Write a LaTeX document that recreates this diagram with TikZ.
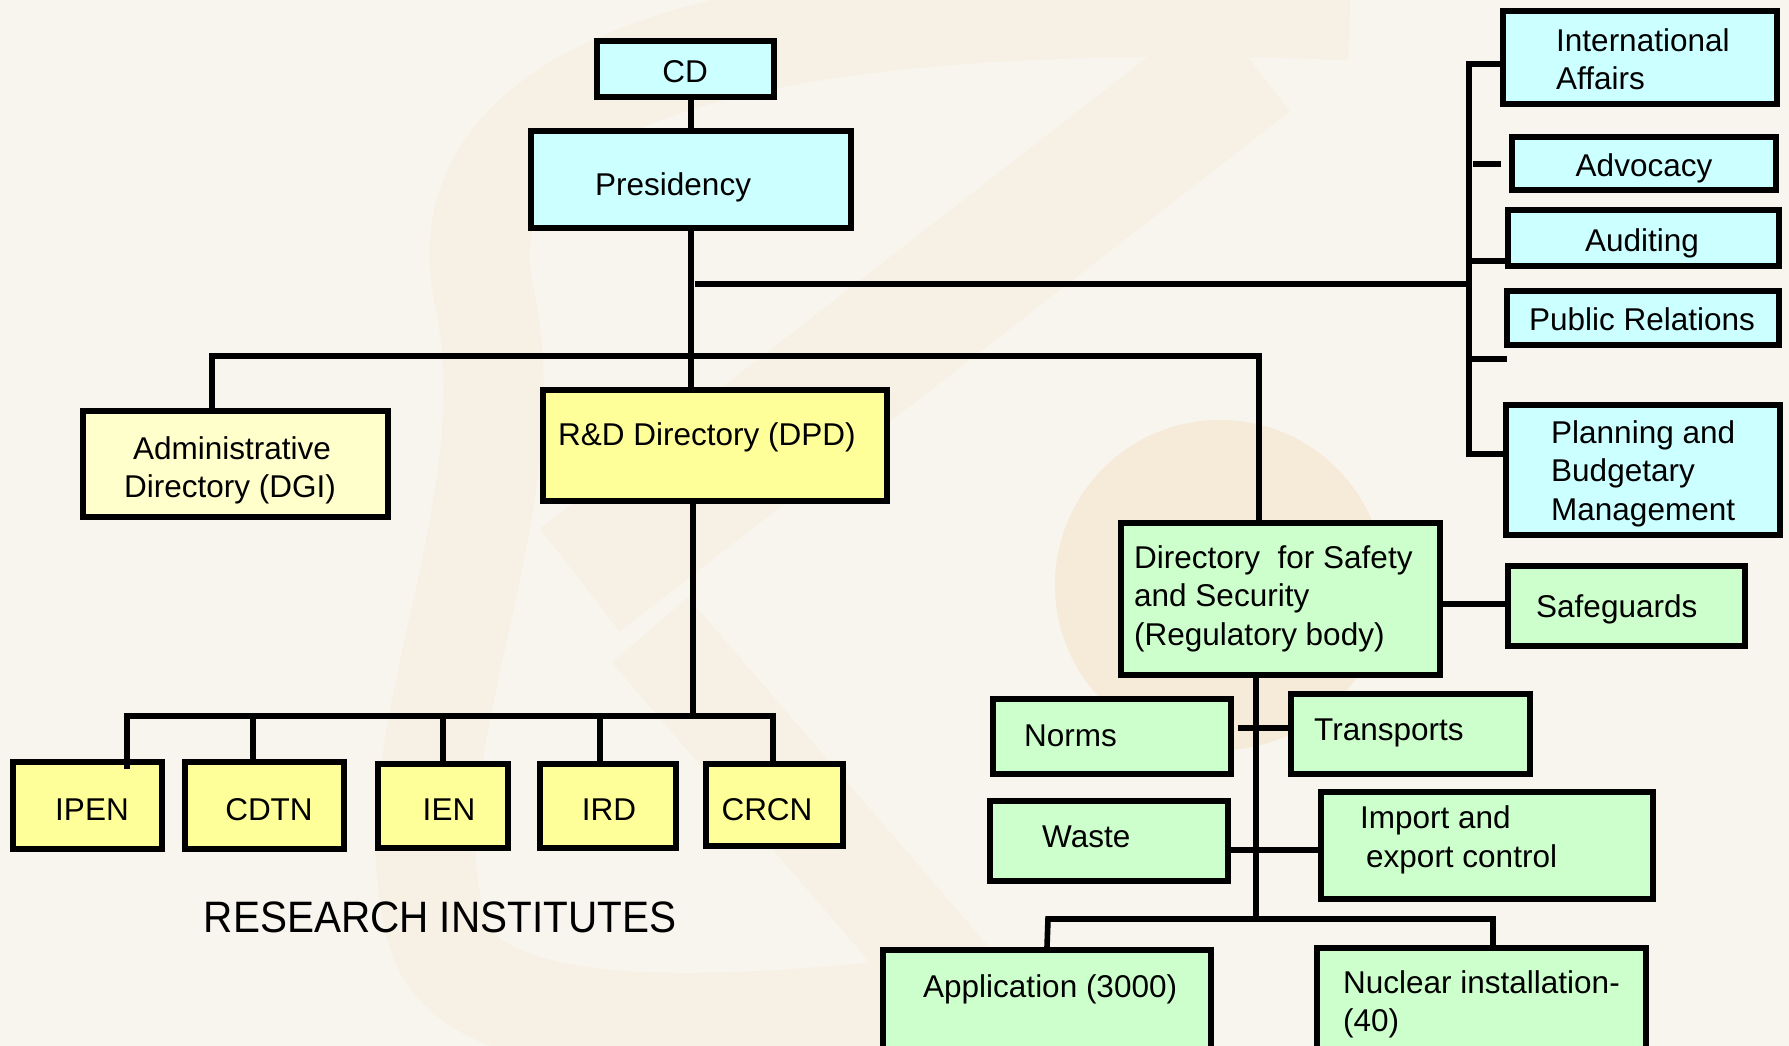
\documentclass[tikz,border=0pt]{standalone}
\usepackage{fontspec}
\setmainfont{Liberation Sans}
\usetikzlibrary{calc}
\definecolor{bg}{HTML}{F8F4EE}
\definecolor{wm}{HTML}{F7F0E4}
\definecolor{wmc}{HTML}{F6EAD8}
\definecolor{boxcyan}{HTML}{CCFFFF}
\definecolor{boxyellow}{HTML}{FFFF99}
\definecolor{boxpale}{HTML}{FFFFCC}
\definecolor{boxgreen}{HTML}{CCFFCC}
\begin{document}
\begin{tikzpicture}[x=1pt,y=-1pt,
  box/.style={draw=black, line width=5.6pt, inner sep=0pt, anchor=center},
  cbox/.style={box, fill=boxcyan},
  ybox/.style={box, fill=boxyellow},
  pbox/.style={box, fill=boxpale},
  gbox/.style={box, fill=boxgreen},
  txt/.style={inner sep=0pt, anchor=base west, font=\fontsize{31.5}{39}\selectfont},
  ctxt/.style={txt, anchor=base},
  conn/.style={draw=black, line width=5.6pt, line join=miter}]
\useasboundingbox (0,0) rectangle (1789,1046);
\fill[bg] (0,0) rectangle (1789,1046);
% watermark
\begin{scope}
\clip (0,0) rectangle (1789,1046);
\fill[wmc] (1220,585) circle (165);
\draw[wm, line width=130pt] (1250,60) -- (580,580);
\draw[wm, line width=100pt] (1350,10) .. controls (800,-10) and (430,60) .. (485,300) .. controls (530,520) and (380,760) .. (440,940) .. controls (480,1040) and (700,1030) .. (900,1010);
\draw[wm, line width=100pt] (650,630) -- (1020,1060);
\end{scope}
% boxes
\node[cbox, minimum width=177pt, minimum height=56pt] (CD) at (685.5,69) {};
\node[ctxt] (CDt) at (685,83) {CD};
\node[cbox, minimum width=320pt, minimum height=97pt] (Pres) at (691,179.5) {};
\node[txt] (Prest) at (595,195) {Presidency};
\node[cbox, minimum width=274pt, minimum height=93pt] (IA) at (1640,57.5) {};
\node[txt] (IAt1) at (1556,52) {International};
\node[txt] (IAt2) at (1556,90) {Affairs};
\node[cbox, minimum width=264pt, minimum height=53pt] (Adv) at (1644,163.5) {};
\node[ctxt] (Advt) at (1644,177) {Advocacy};
\node[cbox, minimum width=271pt, minimum height=56pt] (Aud) at (1643.5,238) {};
\node[ctxt] (Audt) at (1642,251) {Auditing};
\node[cbox, minimum width=272pt, minimum height=54pt] (PR) at (1643,318) {};
\node[ctxt] (PRt) at (1642,330) {Public Relations};
\node[cbox, minimum width=274pt, minimum height=130pt] (PB) at (1643,470) {};
\node[txt] (PBt1) at (1551,443) {Planning and};
\node[txt] (PBt2) at (1551,481) {Budgetary};
\node[txt] (PBt3) at (1551,520) {Management};
\node[pbox, minimum width=305pt, minimum height=106pt] (Adm) at (235.5,464) {};
\node[ctxt] (Admt1) at (232,459) {Administrative};
\node[ctxt] (Admt2) at (230,497) {Directory (DGI)};
\node[ybox, minimum width=344pt, minimum height=111pt] (RD) at (715,445.5) {};
\node[txt] (RDt) at (558,445) {R\&D Directory (DPD)};
\node[ybox, minimum width=149pt, minimum height=87pt] (IPEN) at (87.5,805.5) {};
\node[ctxt] (IPENt) at (92,820) {IPEN};
\node[ybox, minimum width=159pt, minimum height=87pt] (CDTN) at (264.5,805.5) {};
\node[ctxt] (CDTNt) at (269,820) {CDTN};
\node[ybox, minimum width=130pt, minimum height=84pt] (IEN) at (443,806) {};
\node[ctxt] (IENt) at (449,820) {IEN};
\node[ybox, minimum width=136pt, minimum height=84pt] (IRD) at (608,806) {};
\node[ctxt] (IRDt) at (609,820) {IRD};
\node[ybox, minimum width=137pt, minimum height=82pt] (CRCN) at (774.5,805) {};
\node[ctxt] (CRCNt) at (767,820) {CRCN};
\node[inner sep=0pt, anchor=base, font=\fontsize{44}{50}\selectfont] (RI) at (440,932) {\scalebox{0.92}[1]{RESEARCH INSTITUTES}};
\node[gbox, minimum width=319pt, minimum height=152pt] (DSS) at (1280.5,599) {};
\node[txt] (DSSt1) at (1134,568) {Directory\ \ for Safety};
\node[txt] (DSSt2) at (1134,606) {and Security};
\node[txt] (DSSt3) at (1134,645) {(Regulatory body)};
\node[gbox, minimum width=237pt, minimum height=80pt] (Saf) at (1626.5,606) {};
\node[txt] (Saft) at (1536,617) {Safeguards};
\node[gbox, minimum width=238pt, minimum height=75pt] (Norms) at (1112,736.5) {};
\node[txt] (Normst) at (1024,746) {Norms};
\node[gbox, minimum width=239pt, minimum height=80pt] (Tr) at (1410.5,734) {};
\node[txt] (Trt) at (1314,740) {Transports};
\node[gbox, minimum width=238pt, minimum height=80pt] (Waste) at (1109,841) {};
\node[txt] (Wastet) at (1042,847) {Waste};
\node[gbox, minimum width=332pt, minimum height=107pt] (Imp) at (1487,845.5) {};
\node[txt] (Impt1) at (1360,828) {Import and};
\node[txt] (Impt2) at (1366,867) {export control};
\node[gbox, minimum width=328pt, minimum height=107pt] (App) at (1047,1003.5) {};
\node[txt] (Appt) at (923,997) {Application (3000)};
\node[gbox, minimum width=329pt, minimum height=109pt] (Nuc) at (1481.5,1002.5) {};
\node[txt] (Nuct1) at (1343,993) {Nuclear installation-};
\node[txt] (Nuct2) at (1343,1031) {(40)};
% connectors
\draw[conn] (CD.south -| Pres.north) -- ($(Pres.north)+(0,3)$);
\coordinate (hb) at (695,284);
\coordinate (barT) at (1469,64);
\coordinate (barB) at (1469,454);
\draw[conn] (hb) -- (hb -| barT);
\draw[conn] (IA.west |- barT) -- (barT) -- (barB) -- (PB.west |- barB);
\coordinate (advS) at (1473,164);
\draw[conn] (advS) -- ($(advS -| Adv.west)+(-8,0)$);
\coordinate (audS) at (1469,261);
\draw[conn] (audS) -- ($(audS -| Aud.west)+(5,0)$);
\coordinate (prS) at (1469,359);
\draw[conn] (prS) -- ($(prS -| PR.west)+(3,0)$);
\draw[conn] (Pres.south) -- (Pres.south |- RD.north);
\coordinate (b2L) at (212,356);
\coordinate (b2R) at (1259,356);
\draw[conn] (b2L |- Adm.north) -- (b2L) -- (b2R) -- (b2R |- DSS.north);
\coordinate (ib) at (693,716);
\coordinate (ibL) at (127,716);
\coordinate (ibR) at (773,716);
\draw[conn] (ib |- RD.south) -- (ib);
\draw[conn] ($(ibL |- IPEN.north)+(0,10)$) -- (ibL) -- (ibR) -- (ibR |- CRCN.north);
\coordinate (cdS) at (253,716);
\draw[conn] (cdS) -- (cdS |- CDTN.north);
\coordinate (ienS) at (443,716);
\draw[conn] (ienS) -- ($(ienS |- IEN.north)+(0,3)$);
\coordinate (irdS) at (600,716);
\draw[conn] (irdS) -- (irdS |- IRD.north);
\coordinate (sfY) at (0,604);
\draw[conn] (DSS.east |- sfY) -- (Saf.west |- sfY);
\coordinate (db) at (1256,919);
\draw[conn] (db |- DSS.south) -- (db);
\coordinate (ntY) at (0,728);
\draw[conn] ($(Norms.east |- ntY)+(4,0)$) -- (Tr.west |- ntY);
\coordinate (wiY) at (0,850);
\draw[conn] (Waste.east |- wiY) -- (Imp.west |- wiY);
\coordinate (bbL) at (1048,919);
\coordinate (bbR) at (1493,919);
\draw[conn] (App.north) -- (bbL) -- (bbR) -- (bbR |- Nuc.north);
\end{tikzpicture}
\end{document}
